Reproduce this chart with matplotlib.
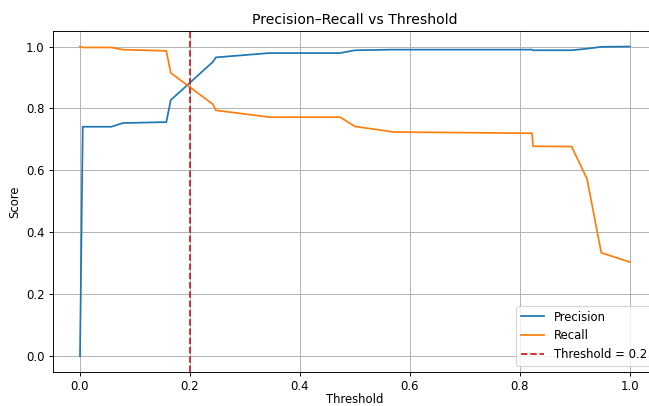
import matplotlib
matplotlib.use("Agg")
import matplotlib.pyplot as plt

thresholds = [0.0, 0.005, 0.057, 0.078, 0.157, 0.165, 0.242, 0.247, 0.345, 0.473,
              0.5, 0.57, 0.822, 0.824, 0.894, 0.922, 0.948, 1.0]
precision = [0.0, 0.741, 0.741, 0.753, 0.756, 0.827, 0.951, 0.965, 0.979, 0.979,
             0.988, 0.990, 0.990, 0.988, 0.988, 0.993, 0.999, 1.0]
recall = [1.0, 0.997, 0.997, 0.990, 0.986, 0.915, 0.813, 0.794, 0.772, 0.772,
          0.742, 0.724, 0.720, 0.678, 0.677, 0.573, 0.334, 0.304]
chosen_threshold = 0.2

DPI = 84
fig = plt.figure(figsize=(649 / DPI, 406 / DPI), dpi=DPI)
ax = fig.add_axes([0.0809, 0.0845, 0.932, 0.839])
ax.plot(thresholds, precision, label="Precision", color="tab:blue", lw=1.5)
ax.plot(thresholds, recall, label="Recall", color="tab:orange", lw=1.5)
ax.axvline(chosen_threshold, color="#d01c24", linestyle="--", lw=1.5,
           label=f"Threshold = {chosen_threshold}")
ax.set_xlim(-0.05, 1.05)
ax.set_ylim(-0.05, 1.05)
ax.set_xlabel("Threshold", labelpad=0.5)
ax.set_ylabel("Score")
ax.set_title("Precision\u2013Recall vs Threshold")
ax.grid(True)
ax.legend(loc="lower right")
fig.savefig("out.png", dpi=DPI)
